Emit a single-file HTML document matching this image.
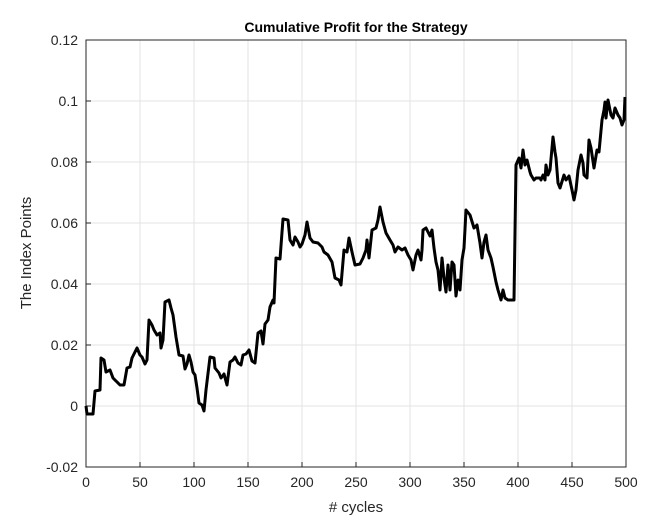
<!DOCTYPE html>
<html><head><style>body{margin:0;background:#fff}svg{display:block}</style></head><body>
<svg width="656" height="530" xmlns="http://www.w3.org/2000/svg" font-family="Liberation Sans, Arial, sans-serif">
<rect width="656" height="530" fill="#fff"/>
<g stroke="#e3e3e3" stroke-width="1">
<line x1="140" y1="40" x2="140" y2="467"/><line x1="194" y1="40" x2="194" y2="467"/><line x1="248" y1="40" x2="248" y2="467"/><line x1="302" y1="40" x2="302" y2="467"/><line x1="356" y1="40" x2="356" y2="467"/><line x1="410" y1="40" x2="410" y2="467"/><line x1="464" y1="40" x2="464" y2="467"/><line x1="518" y1="40" x2="518" y2="467"/><line x1="572" y1="40" x2="572" y2="467"/>
<line x1="86" y1="101" x2="626" y2="101"/><line x1="86" y1="162" x2="626" y2="162"/><line x1="86" y1="223" x2="626" y2="223"/><line x1="86" y1="284" x2="626" y2="284"/><line x1="86" y1="345" x2="626" y2="345"/><line x1="86" y1="406" x2="626" y2="406"/>
</g>
<rect x="86" y="40" width="540" height="427" fill="none" stroke="#262626" stroke-width="1"/>
<g stroke="#262626">
<line x1="140" y1="467" x2="140" y2="462"/><line x1="194" y1="467" x2="194" y2="462"/><line x1="248" y1="467" x2="248" y2="462"/><line x1="302" y1="467" x2="302" y2="462"/><line x1="356" y1="467" x2="356" y2="462"/><line x1="410" y1="467" x2="410" y2="462"/><line x1="464" y1="467" x2="464" y2="462"/><line x1="518" y1="467" x2="518" y2="462"/><line x1="572" y1="467" x2="572" y2="462"/>
<line x1="86" y1="101" x2="91" y2="101"/><line x1="86" y1="162" x2="91" y2="162"/><line x1="86" y1="223" x2="91" y2="223"/><line x1="86" y1="284" x2="91" y2="284"/><line x1="86" y1="345" x2="91" y2="345"/><line x1="86" y1="406" x2="91" y2="406"/>
</g>
<polyline fill="none" stroke="#000" stroke-width="3" stroke-linejoin="round" points="86,406 87,414 93,414 95,391 100,390 101,358 104,360 106,372 110,370 113,378 116,381 120,385 124,385 127,368 130,367 132,358 135,352 137,348 140,355 142,357 145,364 147,360 149,320 152,325 154,330 157,335 160,333 161,348 163,340 165,302 169,300 171,308 173,315 176,337 179,355 183,356 185,369 187,364 189,355 191,362 193,372 195,375 197,388 199,403 202,405 204,411 206,390 210,357 214,358 215,368 219,373 221,378 224,374 227,385 230,362 233,360 235,357 238,363 241,365 243,355 246,354 249,350 252,361 255,363 258,333 261,331 263,344 265,324 268,320 270,307 273,300 274,303 276,258 280,259 283,219 288,220 290,240 293,245 295,237 298,242 300,247 302,244 305,235 307,222 310,238 313,242 318,243 322,247 324,252 328,255 332,262 335,278 339,280 341,285 344,250 347,252 349,238 352,252 355,265 360,264 363,258 366,250 367,240 369,258 372,230 376,228 378,220 380,207 383,222 386,233 390,240 393,245 395,252 398,247 402,250 405,248 408,255 411,260 413,270 416,255 418,250 421,260 422,250 423,230 426,228 430,236 432,230 434,248 436,262 438,270 440,290 442,258 444,278 446,292 448,265 450,290 452,262 454,265 456,296 458,280 460,290 462,260 464,248 466,210 470,215 474,228 477,225 480,243 482,258 484,242 486,235 488,250 491,258 493,267 496,282 498,290 501,300 503,290 505,298 508,300 512,300 514,300 516,165 519,158 521,168 523,150 525,165 527,160 530,172 531,175 534,180 536,178 540,178 541,180 543,175 545,180 546,165 548,175 550,170 553,137 555,152 556,158 558,183 560,188 564,175 566,180 569,176 572,190 574,200 576,190 578,170 581,155 583,163 584,175 587,178 589,140 591,148 594,168 597,150 599,152 602,120 604,110 605,102 606,118 608,100 611,115 613,118 615,108 618,115 620,118 622,125 624,120 625,97"/>
<g font-size="14" fill="#262626" text-anchor="end">
<text x="78" y="45">0.12</text><text x="78" y="106">0.1</text><text x="78" y="167">0.08</text><text x="78" y="228">0.06</text><text x="78" y="289">0.04</text><text x="78" y="350">0.02</text><text x="78" y="411">0</text><text x="78" y="472">-0.02</text>
</g>
<g font-size="14" fill="#262626" text-anchor="middle">
<text x="86" y="487">0</text><text x="140" y="487">50</text><text x="194" y="487">100</text><text x="248" y="487">150</text><text x="302" y="487">200</text><text x="356" y="487">250</text><text x="410" y="487">300</text><text x="464" y="487">350</text><text x="518" y="487">400</text><text x="572" y="487">450</text><text x="626" y="487">500</text>
</g>
<text x="356" y="512" font-size="15" fill="#262626" text-anchor="middle"># cycles</text>
<text x="0" y="0" font-size="15" fill="#262626" text-anchor="middle" transform="translate(31,253) rotate(-90)">The Index Points</text>
<text x="356" y="32" font-size="14" font-weight="bold" fill="#000" text-anchor="middle">Cumulative Profit for the Strategy</text>
</svg>
</body></html>
